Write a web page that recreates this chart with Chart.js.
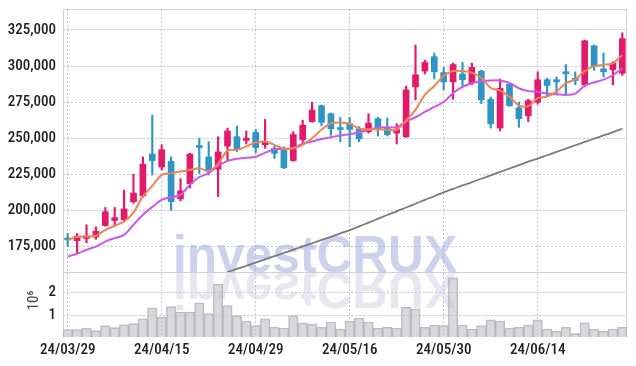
<!DOCTYPE html>
<html>
<head>
<meta charset="utf-8">
<script src="https://cdn.jsdelivr.net/npm/chart.js@4.4.1/dist/chart.umd.min.js"></script>
<style>
html, body { margin: 0; padding: 0; background: #fff; }
</style>
</head>
<body>
<canvas id="chartContainer" width="636" height="366"></canvas>
<script>
// 날짜 (거래일)
var dates = ['24/03/29','24/04/01','24/04/02','24/04/03','24/04/04','24/04/05','24/04/08','24/04/09','24/04/11','24/04/12',
             '24/04/15','24/04/16','24/04/17','24/04/18','24/04/19','24/04/22','24/04/23','24/04/24','24/04/25','24/04/26',
             '24/04/29','24/04/30','24/05/02','24/05/03','24/05/07','24/05/08','24/05/09','24/05/10','24/05/13','24/05/14',
             '24/05/16','24/05/17','24/05/20','24/05/21','24/05/22','24/05/23','24/05/24','24/05/27','24/05/28','24/05/29',
             '24/05/30','24/05/31','24/06/03','24/06/04','24/06/05','24/06/07','24/06/10','24/06/11','24/06/12','24/06/13',
             '24/06/14','24/06/17','24/06/18','24/06/19','24/06/20','24/06/21','24/06/24','24/06/25','24/06/26','24/06/27'];

var opens  = [180000,179000,180500,181500,189500,193000,193500,206000,210000,239000,
              230000,234000,208000,218500,244500,237000,228500,244500,251000,248500,
              254000,245500,243000,242500,234500,249000,261500,272500,267000,257000,
              260000,256500,254500,263500,257500,253500,251000,285500,296500,306500,
              295500,289000,294500,288500,296500,277000,257000,287500,271000,265500,
              275000,290500,290500,296000,291500,287000,314000,298000,297500,295000];
var highs  = [184000,184000,190000,188500,202000,202000,214000,225000,237000,266000,
              245500,237000,222000,239500,250000,247500,251000,257000,258500,255000,
              256000,263000,244500,244000,254500,262500,275000,273000,267500,264500,
              264500,258000,267000,264500,264000,260000,286000,314500,304000,309000,
              299000,302000,302500,302000,297000,278500,291000,288500,275000,277000,
              296000,291500,292500,301000,296000,318000,314500,309000,303000,323000];
var lows   = [175000,170000,177500,180000,189000,189000,192000,205000,209000,224500,
              228000,200000,206500,215500,225500,224500,209500,234000,240500,246000,
              240000,243000,236000,229000,234000,247000,261000,258500,252000,247500,
              244000,247500,253500,251500,251500,246000,250500,276500,294500,291000,
              283500,277000,285500,287000,274000,257000,255000,272000,257500,261500,
              273500,279000,280000,280500,287000,285500,297000,292500,287000,293500];
var closes = [179500,182000,182300,185500,199000,195000,201000,212000,232000,234500,
              242000,206000,213500,239000,243500,227000,240500,255000,242500,250000,
              243500,247500,239500,229500,252500,259000,269500,261000,256500,256000,
              256000,249500,260500,256000,252500,256000,283500,294000,302500,296000,
              289000,301000,290500,299000,276500,260000,284500,272500,263500,276000,
              290500,286500,289000,294500,290000,317500,299500,296000,302000,319000];

// 이동평균선
var ma5  = [179600,181500,181900,182400,186500,189300,192300,198500,209700,217000,
            224600,225800,226900,228100,229200,227400,232200,241400,241900,244300,
            247000,247700,245400,242600,243100,245400,250000,255800,260400,260900,
            259900,256700,256200,256200,255800,255800,262200,269600,280000,286200,
            293200,296600,296400,295400,291900,284800,282900,278800,272700,272200,
            277700,278800,282300,288100,290700,296500,299900,300800,301900,307700];
var ma10 = [168000,169900,172700,174900,178400,180800,183000,190000,196900,202400,
            207300,209100,210700,217700,223000,225800,230800,234300,235700,236400,
            237100,240000,242400,242600,243300,246100,247700,249500,250700,251900,
            252800,253900,255800,257300,257600,257600,261500,264500,268200,271700,
            275100,281200,285500,288100,289500,290000,290000,288300,284600,282600,
            282100,280900,280500,280000,280900,286400,288600,290600,293600,298500];
var ma60 = [null,null,null,null,null,null,null,null,null,null,
            null,null,null,null,null,null,null,157300,159400,161600,
            163800,166100,168300,170500,172800,175000,177200,179500,181700,184000,
            186300,188900,191500,194100,196800,199300,202000,204600,207300,209800,
            212500,214900,217300,219500,221900,224200,226600,229000,231300,233700,
            235900,238200,240500,242800,245100,247400,249700,251900,254200,256500];

// 거래량
var volumes = [400000,400000,470000,360000,570000,485000,610000,660000,870000,1340000,
               940000,1390000,1160000,1160000,1550000,1090000,2360000,1430000,1000000,770000,
               570000,860000,510000,470000,1000000,690000,640000,510000,730000,430000,
               770000,900000,730000,470000,510000,470000,1370000,1290000,510000,600000,
               570000,2620000,600000,430000,570000,820000,770000,470000,510000,600000,
               820000,430000,340000,510000,230000,690000,430000,340000,430000,510000];

// 눈금
var priceTicks = [175000, 200000, 225000, 250000, 275000, 300000, 325000];
var volumeTicks = [1000000, 2000000];

var upColor = '#e3196c';
var downColor = '#2f95c7';
var gridColor = 'rgba(168,176,208,0.75)';
var tickFont = { family: '"Roboto Condensed", "Liberation Sans", sans-serif', size: 15, weight: '500' };

var candleColors = closes.map(function (c, i) { return c >= opens[i] ? upColor : downColor; });

var watermarkPlugin = {
    id: 'watermark',
    beforeDatasetsDraw: function (chart) {
        var ctx = chart.ctx;
        var area = chart.chartArea;
        var base = chart.scales.y.bottom;
        ctx.save();
        // 워터마크
        ctx.font = 'bold 52px "Liberation Sans", Arial, sans-serif';
        ctx.textBaseline = 'alphabetic';
        var w = ctx.measureText('investCRUX').width;
        var sx = 284 / w;
        ctx.translate(area.left + 110, base);
        ctx.save();
        ctx.scale(sx, 1);
        ctx.fillStyle = 'rgba(172,183,222,0.62)';
        ctx.fillText('investCRUX', 0, 0);
        ctx.restore();
        ctx.save();
        ctx.scale(sx, -1);
        ctx.fillStyle = 'rgba(212,210,230,0.55)';
        ctx.fillText('investCRUX', 0, 0);
        ctx.restore();
        ctx.restore();

        // 테두리
        ctx.save();
        ctx.strokeStyle = '#cfcfd6';
        ctx.lineWidth = 1;
        ctx.beginPath();
        ctx.moveTo(area.left + 0.5, area.top);
        ctx.lineTo(area.left + 0.5, area.bottom);
        ctx.moveTo(area.right - 0.5, area.top);
        ctx.lineTo(area.right - 0.5, area.bottom);
        ctx.moveTo(area.left, area.top + 0.5);
        ctx.lineTo(area.right, area.top + 0.5);
        ctx.moveTo(area.left, Math.round(base) + 0.5);
        ctx.lineTo(area.right, Math.round(base) + 0.5);
        ctx.stroke();
        ctx.restore();

        // 거래량 단위
        var v = chart.scales.yv;
        ctx.save();
        ctx.translate(34, (v.top + v.bottom) / 2 - 4);
        ctx.rotate(-Math.PI / 2);
        ctx.fillStyle = '#444';
        ctx.textAlign = 'center';
        ctx.textBaseline = 'middle';
        ctx.font = '15px "Roboto Condensed", "Liberation Sans", sans-serif';
        ctx.fillText('10\u2076', 0, 0);
        ctx.restore();
    }
};

function fitLeftAxis(s) {
    s.width = 63;
    s.paddingTop = 0;
    s.paddingBottom = 0;
}

var ctx = document.getElementById('chartContainer').getContext('2d');
var myChart = new Chart(ctx, {
    data: {
        labels: dates,
        datasets: [
            {
                type: 'line', label: 'MA5', data: ma5, yAxisID: 'y',
                borderColor: '#ef8452', borderWidth: 2, pointRadius: 0, tension: 0.3, order: 0
            },
            {
                type: 'line', label: 'MA10', data: ma10, yAxisID: 'y',
                borderColor: '#cc58e8', borderWidth: 2, pointRadius: 0, tension: 0.3, order: 0
            },
            {
                type: 'line', label: 'MA60', data: ma60, yAxisID: 'y',
                borderColor: '#7c7c7c', borderWidth: 1.8, pointRadius: 0, tension: 0.3, order: 0
            },
            {
                type: 'bar', label: 'body', yAxisID: 'y',
                data: opens.map(function (o, i) { return [o, closes[i]]; }),
                backgroundColor: candleColors, barThickness: 6, minBarLength: 2,
                grouped: false, order: 1
            },
            {
                type: 'bar', label: 'wick', yAxisID: 'y',
                data: lows.map(function (l, i) { return [l, highs[i]]; }),
                backgroundColor: candleColors, barThickness: 1.5,
                grouped: false, order: 2
            },
            {
                type: 'bar', label: 'volume', yAxisID: 'yv', data: volumes,
                backgroundColor: 'rgba(198,198,204,0.66)', borderColor: 'rgba(170,170,178,0.8)',
                borderWidth: 1, categoryPercentage: 1, barPercentage: 1,
                grouped: false, order: 3
            }
        ]
    },
    options: {
        responsive: false,
        animation: false,
        layout: { padding: { left: 0, right: 9, top: 9, bottom: 0 } },
        plugins: { legend: { display: false }, tooltip: { enabled: false } },
        scales: {
            x: {
                type: 'category',
                offset: true,
                grid: {
                    offset: false,
                    drawTicks: false,
                    color: function (c) { return c.index % 10 === 0 ? gridColor : 'rgba(0,0,0,0)'; }
                },
                border: { display: false, dash: [2, 2] },
                ticks: {
                    autoSkip: false, maxRotation: 0, padding: 4,
                    color: '#222', font: tickFont,
                    callback: function (v, i) { return i % 10 === 0 ? dates[i] : ''; }
                },
                afterFit: function (s) { s.height = 29; s.paddingLeft = 0; s.paddingRight = 0; }
            },
            // 아래쪽 거래량 축 (먼저 정의해야 아래에 쌓임)
            yv: {
                type: 'linear', position: 'left', stack: 'main', stackWeight: 65,
                min: 85000, max: 2875000,
                grid: { color: gridColor, drawTicks: false },
                border: { display: false, dash: [2, 2] },
                ticks: {
                    padding: 7, color: '#222', font: tickFont,
                    callback: function (v) { return v / 1000000; }
                },
                afterBuildTicks: function (s) {
                    s.ticks = volumeTicks.map(function (v) { return { value: v }; });
                },
                afterFit: fitLeftAxis
            },
            y: {
                type: 'linear', position: 'left', stack: 'main', stackWeight: 263,
                min: 157300, max: 339500,
                grid: { color: gridColor, drawTicks: false },
                border: { display: false, dash: [2, 2] },
                ticks: {
                    padding: 7, color: '#222', font: tickFont,
                    callback: function (v) { return v.toLocaleString('en-US'); }
                },
                afterBuildTicks: function (s) {
                    s.ticks = priceTicks.map(function (v) { return { value: v }; });
                },
                afterFit: fitLeftAxis
            }
        }
    },
    plugins: [watermarkPlugin]
});
</script>
</body>
</html>
